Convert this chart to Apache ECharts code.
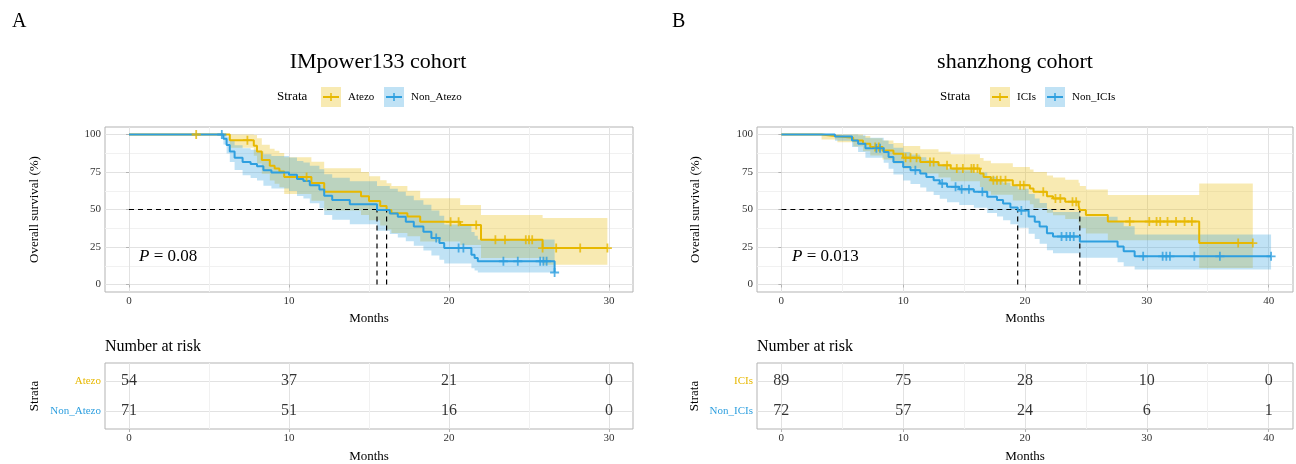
<!DOCTYPE html>
<html><head><meta charset="utf-8">
<script src="https://cdn.jsdelivr.net/npm/echarts@6/dist/echarts.min.js"></script>
<style>html,body{margin:0;padding:0;background:#fff}#c{width:1296px;height:464px}</style>
</head><body><div id="c"></div>
<script>
// ---------------- DATA ----------------
// Panel A: IMpower133 cohort
const strataA = ['Atezo', 'Non_Atezo'];
const atezoTime  = [0, 6.3, 7.8, 8.0, 8.3, 8.8, 9.1, 9.4, 9.7, 11.4, 12.2, 14.5, 15.0, 15.7, 16.1, 16.4, 17.4, 18.2, 20.7, 22.0, 25.85];
const atezoSurv  = [100, 96.2, 92.5, 88.7, 83.0, 79.2, 77.3, 75.4, 71.6, 67.6, 61.8, 58.9, 55.6, 52.3, 49.7, 47.5, 45.3, 41.8, 39.7, 29.8, 24.3];
const atezoLower = [100, 91.2, 85.8, 80.7, 73.9, 69.3, 67.1, 64.8, 60.4, 55.8, 49.4, 46.3, 42.8, 39.4, 36.6, 34.4, 32.1, 28.6, 26.4, 17.6, 13.2];
const atezoUpper = [100, 100, 99.7, 97.5, 93.2, 90.5, 89.1, 87.7, 84.9, 81.9, 77.5, 75.0, 72.2, 69.5, 67.5, 65.7, 62.5, 57.5, 53.0, 46.3, 44.3];
const atezoEnd = 29.9;
const atezoCensor = [4.2, 7.4, 11.1, 20.1, 20.6, 21.7, 22.9, 23.5, 24.8, 25.0, 25.2, 25.85, 26.7, 28.2, 29.9];

const nonAtezoTime  = [0, 5.9, 6.1, 6.3, 6.6, 7.1, 7.6, 8.0, 8.4, 8.9, 10.0, 10.5, 10.9, 11.3, 11.9, 12.2, 12.7, 13.8, 15.5, 16.3, 16.8, 17.3, 17.8, 18.4, 18.9, 19.4, 19.7, 21.4, 21.6, 21.8, 26.6];
const nonAtezoSurv  = [100, 97.2, 93.0, 88.7, 84.5, 81.7, 80.3, 78.9, 76.1, 74.6, 73.2, 70.4, 69.0, 66.2, 63.4, 59.2, 56.3, 53.5, 49.6, 47.4, 45.2, 41.9, 38.6, 35.2, 31.0, 27.6, 24.3, 19.9, 17.7, 15.5, 8.0];
const nonAtezoLower = [100, 93.4, 87.3, 81.6, 76.4, 72.8, 71.0, 69.3, 65.8, 64.0, 62.3, 59.0, 57.3, 54.1, 50.9, 46.3, 43.1, 40.1, 35.9, 33.6, 31.4, 28.8, 25.8, 22.7, 19.3, 16.5, 14.0, 10.8, 9.4, 8.0, 1.5];
const nonAtezoUpper = [100, 100, 98.6, 95.6, 92.8, 90.8, 89.8, 88.6, 86.8, 85.7, 84.6, 82.4, 81.3, 79.1, 76.8, 73.5, 71.1, 68.8, 65.6, 63.8, 61.9, 59.2, 56.2, 53.1, 49.3, 45.9, 40.0, 35.0, 32.5, 30.0, 34.0];
const nonAtezoEnd = 26.6;
const nonAtezoCensor = [5.8, 19.2, 20.6, 20.9, 23.4, 24.3, 25.7, 25.9, 26.1, 26.6];

const riskTimesA = [0, 10, 20, 30];
const riskAtezo = [54, 37, 21, 0];
const riskNonAtezo = [71, 51, 16, 0];
const pValueA = '0.08';

// Panel B: shanzhong cohort
const strataB = ['ICIs', 'Non_ICIs'];
const iciTime  = [0, 3.3, 4.6, 5.9, 6.7, 7.3, 8.3, 9.2, 10.0, 11.4, 12.9, 13.9, 16.3, 16.6, 17.2, 19.0, 20.4, 20.7, 21.8, 22.3, 23.3, 24.4, 24.5, 25.0, 26.8, 34.3];
const iciSurv  = [100, 98.9, 97.8, 96.0, 93.8, 91.6, 89.4, 87.2, 84.5, 81.7, 79.5, 77.3, 74.0, 71.7, 69.5, 66.2, 64.0, 61.8, 58.9, 57.4, 55.2, 52.5, 49.7, 46.4, 42.0, 27.6];
const iciLower = [100, 96.7, 94.8, 92.0, 88.9, 86.0, 83.3, 80.6, 77.3, 74.0, 71.4, 68.8, 65.0, 62.4, 59.8, 56.0, 53.5, 51.0, 47.8, 46.1, 43.6, 40.7, 37.6, 34.0, 29.5, 11.0];
const iciUpper = [100, 100, 100, 100, 99.0, 97.5, 96.0, 94.3, 92.4, 90.2, 88.5, 86.8, 84.3, 82.5, 80.8, 78.3, 76.6, 75.0, 72.6, 71.4, 69.8, 67.8, 65.7, 63.3, 59.6, 67.3];
const iciEnd = 38.7;
const iciCensor = [7.7, 8.0, 10.2, 10.6, 11.1, 12.2, 12.5, 13.6, 14.4, 14.9, 15.6, 15.8, 16.1, 17.4, 17.7, 18.0, 18.4, 19.6, 19.9, 21.5, 22.5, 22.9, 23.9, 24.2, 28.6, 30.2, 30.8, 31.1, 31.7, 32.4, 33.1, 33.7, 37.5, 38.7];

const nonIciTime  = [0, 4.4, 5.8, 6.3, 6.9, 8.4, 8.8, 9.2, 10.0, 10.6, 11.4, 11.9, 12.5, 13.0, 13.6, 14.6, 15.8, 16.9, 17.7, 18.2, 18.8, 19.4, 20.3, 20.8, 21.2, 21.8, 22.3, 24.5, 27.6, 28.1, 29.0];
const nonIciSurv  = [100, 98.6, 96.0, 93.8, 90.9, 88.3, 85.0, 81.7, 78.3, 76.2, 74.0, 71.7, 69.5, 67.3, 65.1, 63.5, 61.8, 58.5, 56.3, 54.0, 51.4, 49.3, 45.3, 41.9, 38.6, 34.2, 32.0, 28.7, 25.4, 22.1, 18.8];
const nonIciLower = [100, 95.9, 91.6, 88.3, 84.5, 81.2, 77.2, 73.3, 69.4, 67.0, 64.6, 62.0, 59.6, 57.2, 54.8, 53.0, 51.2, 47.6, 45.3, 42.8, 40.1, 37.9, 33.8, 30.4, 27.1, 22.9, 20.8, 17.8, 14.9, 12.1, 10.0];
const nonIciUpper = [100, 100, 100, 99.5, 97.8, 96.0, 93.6, 91.1, 88.4, 86.7, 84.9, 83.0, 81.1, 79.3, 77.4, 76.1, 74.6, 71.8, 69.9, 67.9, 65.6, 63.8, 60.3, 57.3, 54.3, 50.4, 48.3, 45.2, 42.0, 38.8, 33.3];
const nonIciEnd = 40.2;
const nonIciCensor = [7.8, 8.1, 11.0, 13.2, 14.3, 14.8, 15.4, 16.5, 19.7, 23.0, 23.4, 23.7, 24.0, 29.7, 31.3, 31.6, 31.9, 33.9, 36.0, 40.2];

const riskTimesB = [0, 10, 20, 30, 40];
const riskICIs = [89, 75, 28, 10, 0];
const riskNonICIs = [72, 57, 24, 6, 1];
const pValueB = '0.013';

// Tick labels
const xTicksA = [0, 10, 20, 30];
const xMinorA = [5, 15, 25];
const xTicksB = [0, 10, 20, 30, 40];
const xMinorB = [5, 15, 25, 35];
const yTicks = [0, 25, 50, 75, 100];
const yMinor = [12.5, 37.5, 62.5, 87.5];

// ---------------- STYLE / LAYOUT ----------------
const FF = 'Liberation Serif';
const GOLD = '#E7B800', BLUE = '#2E9FDF';
const GOLD_F = 'rgba(231,184,0,0.3)', BLUE_F = 'rgba(46,159,223,0.3)';
const MAJ = '#e2e2e2', MIN = '#f1f1f1', BORDER = '#b3b3b3';

const chart = echarts.init(document.getElementById('c'), null, {renderer: 'canvas'});

function xAxisMain(gi, min, max, ticks, nameGap) {
  return {type: 'value', gridIndex: gi, min, max, position: 'bottom',
    axisLine: {show: false},
    axisTick: {show: true, customValues: ticks, length: 3, lineStyle: {color: BORDER}},
    axisLabel: {show: true, customValues: ticks, fontSize: 11, color: '#333', fontFamily: FF, margin: 4},
    splitLine: {show: true, lineStyle: {color: MAJ, width: 1}},
    name: 'Months', nameLocation: 'middle', nameGap: nameGap,
    nameTextStyle: {fontSize: 13, color: '#000', fontFamily: FF}};
}
function xAxisMinor(gi, min, max, ticks) {
  return {type: 'value', gridIndex: gi, min, max, position: 'top',
    axisLine: {show: false}, axisTick: {show: false, customValues: ticks},
    axisLabel: {show: false, customValues: ticks},
    splitLine: {show: true, lineStyle: {color: MIN, width: 1}}};
}
function yAxisMain(gi, ticks, gap) {
  return {type: 'value', gridIndex: gi, min: -5, max: 105, position: 'left',
    axisLine: {show: false},
    axisTick: {show: true, customValues: ticks, length: 3, lineStyle: {color: BORDER}},
    axisLabel: {show: true, customValues: ticks, fontSize: 11, color: '#333', fontFamily: FF, margin: 4},
    splitLine: {show: true, lineStyle: {color: MAJ, width: 1}},
    name: 'Overall survival (%)', nameLocation: 'middle', nameGap: gap,
    nameTextStyle: {fontSize: 13, color: '#000', fontFamily: FF}};
}
function yAxisMinor(gi, ticks) {
  return {type: 'value', gridIndex: gi, min: -5, max: 105, position: 'right',
    axisLine: {show: false}, axisTick: {show: false, customValues: ticks},
    axisLabel: {show: false, customValues: ticks},
    splitLine: {show: true, lineStyle: {color: MIN, width: 1}}};
}
function yAxisTable(gi, strata, gap) {
  return {type: 'value', gridIndex: gi, min: 0.4, max: 2.6, position: 'left',
    axisLine: {show: false},
    axisTick: {show: true, customValues: [1, 2], length: 3, lineStyle: {color: BORDER}},
    axisLabel: {show: true, customValues: [1, 2], margin: 4,
      formatter: v => (v === 2 ? '{g|' + strata[0] + '}' : '{b|' + strata[1] + '}'),
      rich: {g: {color: GOLD, fontSize: 11, fontFamily: FF}, b: {color: BLUE, fontSize: 11, fontFamily: FF}}},
    splitLine: {show: true, lineStyle: {color: MAJ, width: 1}},
    name: 'Strata', nameLocation: 'middle', nameGap: gap,
    nameTextStyle: {fontSize: 13, color: '#000', fontFamily: FF}};
}

function survAt(times, surv, t) {
  let v = surv[0];
  for (let i = 0; i < times.length; i++) if (times[i] <= t + 1e-9) v = surv[i];
  return v;
}
function medianOf(times, surv) {
  for (let i = 0; i < times.length; i++) if (surv[i] <= 50) return times[i];
  return null;
}

const plusPath = 'path://M4,0H6V10H4ZM0,4H10V6H0Z';

function kmSeries(axisIdx, times, surv, lower, upper, end, censor, color, fill) {
  const bandSeries = {
    type: 'custom', xAxisIndex: axisIdx, yAxisIndex: axisIdx, z: 1, silent: true, clip: true,
    data: [[times[0], surv[0]]],
    renderItem: function (params, api) {
      const pts = [];
      for (let i = 0; i < times.length; i++) {
        const tn = i + 1 < times.length ? times[i + 1] : end;
        pts.push(api.coord([times[i], upper[i]]));
        pts.push(api.coord([tn, upper[i]]));
      }
      for (let i = times.length - 1; i >= 0; i--) {
        const tn = i + 1 < times.length ? times[i + 1] : end;
        pts.push(api.coord([tn, lower[i]]));
        pts.push(api.coord([times[i], lower[i]]));
      }
      return {type: 'polygon', shape: {points: pts}, style: {fill: fill, stroke: null}};
    }
  };
  const linePts = times.map((t, i) => [t, surv[i]]).concat([[end, surv[surv.length - 1]]]);
  const line = {type: 'line', xAxisIndex: axisIdx, yAxisIndex: axisIdx, step: 'end', data: linePts,
    symbol: 'none', z: 3, silent: true, lineStyle: {color: color, width: 2}};
  const marks = {type: 'scatter', xAxisIndex: axisIdx, yAxisIndex: axisIdx, z: 4, silent: true,
    data: censor.map(c => [c, survAt(times, surv, c)]),
    symbol: plusPath, symbolSize: 9, itemStyle: {color: color}};
  return {band: bandSeries, line, marks};
}

function medianSeries(axisIdx, meds) {
  const mx = Math.max(...meds);
  const dash = {color: '#000', width: 1.2, type: [5, 4]};
  const out = [{type: 'line', xAxisIndex: axisIdx, yAxisIndex: axisIdx, data: [[0, 50], [mx, 50]],
    symbol: 'none', z: 2, silent: true, lineStyle: dash}];
  meds.forEach(m => out.push({type: 'line', xAxisIndex: axisIdx, yAxisIndex: axisIdx,
    data: [[m, 0], [m, 50]], symbol: 'none', z: 2, silent: true, lineStyle: dash}));
  return out;
}

function riskSeries(xIdx, yIdx, times, vals, row) {
  return {type: 'scatter', xAxisIndex: xIdx, yAxisIndex: yIdx, silent: true,
    data: times.map((t, i) => [t, row, vals[i]]),
    symbolSize: 1, itemStyle: {color: 'rgba(0,0,0,0)'},
    label: {show: true, position: 'inside', formatter: p => String(p.value[2]),
      fontSize: 16, color: '#000', fontFamily: FF}};
}

// KM series
const kA1 = kmSeries(0, atezoTime, atezoSurv, atezoLower, atezoUpper, atezoEnd, atezoCensor, GOLD, GOLD_F);
const kA2 = kmSeries(0, nonAtezoTime, nonAtezoSurv, nonAtezoLower, nonAtezoUpper, nonAtezoEnd, nonAtezoCensor, BLUE, BLUE_F);
const kB1 = kmSeries(2, iciTime, iciSurv, iciLower, iciUpper, iciEnd, iciCensor, GOLD, GOLD_F);
const kB2 = kmSeries(2, nonIciTime, nonIciSurv, nonIciLower, nonIciUpper, nonIciEnd, nonIciCensor, BLUE, BLUE_F);

const series = [
  kA1.band, kA2.band, kB1.band, kB2.band,
  ...medianSeries(0, [medianOf(nonAtezoTime, nonAtezoSurv), medianOf(atezoTime, atezoSurv)]),
  ...medianSeries(2, [medianOf(nonIciTime, nonIciSurv), medianOf(iciTime, iciSurv)]),
  kA1.line, kA2.line, kB1.line, kB2.line,
  kA1.marks, kA2.marks, kB1.marks, kB2.marks,
  riskSeries(4, 4, riskTimesA, riskAtezo, 2),
  riskSeries(4, 4, riskTimesA, riskNonAtezo, 1),
  riskSeries(6, 5, riskTimesB, riskICIs, 2),
  riskSeries(6, 5, riskTimesB, riskNonICIs, 1)
];

// Legend / text graphics
function txt(x, y, text, size, opts) {
  return Object.assign({type: 'text', x: x, y: y, silent: true,
    style: Object.assign({text: text, fontSize: size, fontFamily: FF, fill: '#000',
      align: 'left', verticalAlign: 'middle'}, (opts || {}))});
}
function legendKey(x, y, color, fill) {
  return [
    {type: 'rect', shape: {x: x, y: y - 10, width: 20, height: 20}, style: {fill: fill}, silent: true},
    {type: 'line', shape: {x1: x + 2, y1: y, x2: x + 18, y2: y}, style: {stroke: color, lineWidth: 2}, silent: true},
    {type: 'line', shape: {x1: x + 10, y1: y - 4, x2: x + 10, y2: y + 4}, style: {stroke: color, lineWidth: 1.5}, silent: true}
  ];
}
function pText(x, y, val) {
  return {type: 'text', x: x, y: y, silent: true,
    style: {text: '{i|P} = ' + val, fontSize: 17, fontFamily: FF, fill: '#000', verticalAlign: 'middle',
      rich: {i: {fontStyle: 'italic', fontSize: 17, fontFamily: FF, fill: '#000'}}}};
}

const graphics = [
  txt(12, 22, 'A', 20),
  txt(672, 22, 'B', 20),
  txt(378, 62, 'IMpower133 cohort', 22, {align: 'center'}),
  txt(1015, 62, 'shanzhong cohort', 22, {align: 'center'}),
  txt(277, 97, 'Strata', 13),
  ...legendKey(321, 97, GOLD, GOLD_F),
  txt(348, 97, strataA[0], 11),
  ...legendKey(384, 97, BLUE, BLUE_F),
  txt(411, 97, strataA[1], 11),
  txt(940, 97, 'Strata', 13),
  ...legendKey(990, 97, GOLD, GOLD_F),
  txt(1017, 97, strataB[0], 11),
  ...legendKey(1045, 97, BLUE, BLUE_F),
  txt(1072, 97, strataB[1], 11),
  pText(139, 257, pValueA),
  pText(792, 257, pValueB),
  txt(105, 347, 'Number at risk', 16),
  txt(757, 347, 'Number at risk', 16)
];

const gridStyle = {show: true, borderColor: BORDER, borderWidth: 1, backgroundColor: 'transparent', containLabel: false};

chart.setOption({
  animation: false,
  backgroundColor: '#fff',
  grid: [
    Object.assign({left: 105, top: 127, width: 528, height: 165}, gridStyle),
    Object.assign({left: 757, top: 127, width: 536, height: 165}, gridStyle),
    Object.assign({left: 105, top: 363, width: 528, height: 66}, gridStyle),
    Object.assign({left: 757, top: 363, width: 536, height: 66}, gridStyle)
  ],
  xAxis: [
    xAxisMain(0, -1.5, 31.5, xTicksA, 20), xAxisMinor(0, -1.5, 31.5, xMinorA),
    xAxisMain(1, -2, 42, xTicksB, 20), xAxisMinor(1, -2, 42, xMinorB),
    xAxisMain(2, -1.5, 31.5, xTicksA, 21), xAxisMinor(2, -1.5, 31.5, xMinorA),
    xAxisMain(3, -2, 42, xTicksB, 21), xAxisMinor(3, -2, 42, xMinorB)
  ],
  yAxis: [
    yAxisMain(0, yTicks, 64), yAxisMinor(0, yMinor),
    yAxisMain(1, yTicks, 55), yAxisMinor(1, yMinor),
    yAxisTable(2, strataA, 64),
    yAxisTable(3, strataB, 56)
  ],
  graphic: graphics,
  series: series
});
</script></body></html>
